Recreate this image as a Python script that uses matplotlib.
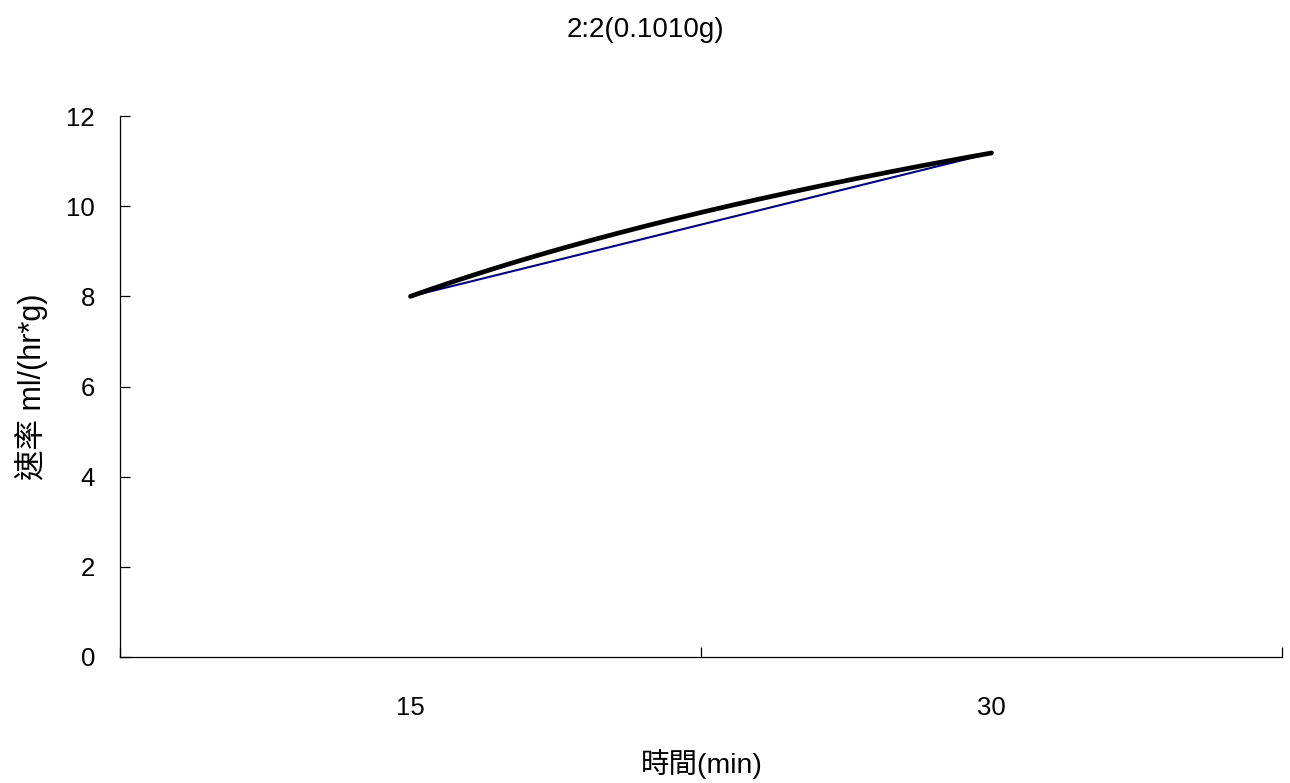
import numpy as np
import matplotlib
matplotlib.use("Agg")
import matplotlib.pyplot as plt
from matplotlib.ticker import FixedLocator, NullFormatter, FixedFormatter

plt.rcParams['font.family'] = ['Liberation Sans', 'Noto Sans CJK TC', 'DejaVu Sans']

categories = ["15", "30"]
rate = [8.0, 11.18]
title = "2:2(0.1010g)"
xlabel = "時間(min)"
ylabel = "速率 ml/(hr*g)"
yticks = [0, 2, 4, 6, 8, 10, 12]

fig = plt.figure(figsize=(12.9, 7.83), dpi=100)
ax = fig.add_axes([120/1290, 1 - 657/783, (1282-120)/1290, (657-116)/783])

xpos = np.arange(1, len(categories) + 1)
ax.plot(xpos, rate, color='#000080', lw=1.5, solid_capstyle='round', zorder=2)

# logarithmic trendline fitted to the series
b, a = np.polyfit(np.log(xpos), rate, 1)
xs = np.linspace(xpos[0], xpos[-1], 200)
ax.plot(xs, a + b * np.log(xs), color='black', lw=3.4, solid_capstyle='round', zorder=3)

ax.set_xlim(0.5, len(categories) + 0.5)
ax.set_ylim(0, 12)
ax.set_yticks(yticks)
ax.set_yticklabels([str(v) for v in yticks])

ax.xaxis.set_major_locator(FixedLocator(np.arange(0.5, len(categories) + 1, 1.0)))
ax.xaxis.set_major_formatter(NullFormatter())
ax.xaxis.set_minor_locator(FixedLocator(xpos))
ax.xaxis.set_minor_formatter(FixedFormatter(categories))

for s in ['top', 'right']:
    ax.spines[s].set_visible(False)
for s in ['left', 'bottom']:
    ax.spines[s].set_linewidth(0.9)
    ax.spines[s].set_color('black')

ax.tick_params(axis='y', which='major', direction='in', length=7.5, width=0.9,
               labelsize=18.5, pad=18)
ax.tick_params(axis='x', which='major', direction='in', length=7, width=0.9)
ax.tick_params(axis='x', which='minor', length=0, labelsize=18.5, pad=28)

fig.text(645/1290, 1 - 30/783, title, fontsize=20, ha='center', va='center')
fig.text(702/1290, 1 - 764/783, xlabel, fontsize=20.5, ha='center', va='center')
fig.text(31/1290, 1 - 387/783, ylabel, fontsize=22, ha='center', va='center', rotation=90)

fig.savefig("out.png", dpi=100)
